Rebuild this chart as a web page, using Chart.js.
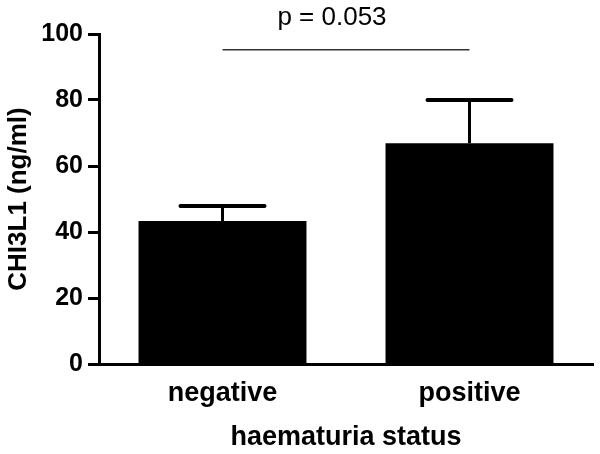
<!DOCTYPE html>
<html>
<head>
<meta charset="utf-8">
<script src="https://cdn.jsdelivr.net/npm/chart.js@4/dist/chart.umd.min.js"></script>
<style>
  html, body { margin: 0; padding: 0; background: #fff; }
  #wrap { width: 600px; height: 454px; }
</style>
</head>
<body>
<div id="wrap"><canvas id="chBars"></canvas></div>
<script>
// values
const categories = ['negative', 'positive'];
const means = [43.3, 66.9];
const upperErr = [47.9, 80.0];
const yTicks = [0, 20, 40, 60, 80, 100];
const pText = 'p = 0.053';
const pLineValue = 95.2;
const pTextValue = 105;

const FONT = "'Liberation Sans', Arial, Helvetica, sans-serif";

// error bars (upper only) + significance bracket
const extrasPlugin = {
    id: 'extras',
    afterDatasetsDraw(chart) {
        const ctx = chart.ctx;
        const x = chart.scales.x, y = chart.scales.y;
        ctx.save();
        ctx.strokeStyle = '#000';
        means.forEach((m, i) => {
            const cx = x.getPixelForValue(i);
            const yTop = y.getPixelForValue(upperErr[i]);
            const yBar = y.getPixelForValue(m);
            ctx.lineWidth = 3;
            ctx.lineCap = 'butt';
            ctx.beginPath();
            ctx.moveTo(cx, yBar);
            ctx.lineTo(cx, yTop);
            ctx.stroke();
            ctx.lineWidth = 4;
            ctx.lineCap = 'round';
            ctx.beginPath();
            ctx.moveTo(cx - 42, yTop);
            ctx.lineTo(cx + 42, yTop);
            ctx.stroke();
        });
        // p-value line
        const x0 = x.getPixelForValue(0), x1 = x.getPixelForValue(1);
        const yl = y.getPixelForValue(pLineValue);
        ctx.strokeStyle = '#333';
        ctx.lineWidth = 1.5;
        ctx.lineCap = 'butt';
        ctx.beginPath();
        ctx.moveTo(x0, yl);
        ctx.lineTo(x1, yl);
        ctx.stroke();
        ctx.fillStyle = '#000';
        ctx.font = '26px ' + FONT;
        ctx.textAlign = 'center';
        ctx.textBaseline = 'middle';
        ctx.fillText(pText, (x0 + x1) / 2 - 14, y.getPixelForValue(pTextValue));
        ctx.restore();
    }
};

new Chart(document.getElementById('chBars').getContext('2d'), {
    type: 'bar',
    data: {
        labels: categories,
        datasets: [{
            data: means,
            backgroundColor: '#000',
            borderWidth: 0,
            categoryPercentage: 0.68,
            barPercentage: 1
        }]
    },
    options: {
        responsive: true,
        maintainAspectRatio: false,
        animation: false,
        layout: { padding: { top: 34, right: 7, left: 0, bottom: 0 } },
        plugins: {
            legend: { display: false },
            tooltip: { enabled: false }
        },
        scales: {
            x: {
                afterFit: s => { s.height = 90; },
                grid: { display: false },
                border: { display: true, color: '#000', width: 3 },
                ticks: {
                    color: '#000',
                    padding: 5,
                    font: { family: FONT, size: 27, weight: 'bold' }
                },
                title: {
                    display: true,
                    text: 'haematuria status',
                    color: '#000',
                    padding: { top: 0, bottom: 0 },
                    font: { family: FONT, size: 27, weight: 'bold' }
                }
            },
            y: {
                min: 0,
                max: 100,
                afterFit: s => { s.width = 99; },
                afterBuildTicks: s => { s.ticks = yTicks.map(v => ({ value: v })); },
                grid: {
                    drawOnChartArea: false,
                    tickLength: 11,
                    tickWidth: 3,
                    color: '#000'
                },
                border: { display: true, color: '#000', width: 3 },
                ticks: {
                    color: '#000',
                    padding: 5,
                    font: { family: FONT, size: 25, weight: 'bold' }
                },
                title: {
                    display: true,
                    text: 'CHI3L1 (ng/ml)',
                    color: '#000',
                    padding: { top: 3, bottom: 0 },
                    font: { family: FONT, size: 26, weight: 'bold' }
                }
            }
        }
    },
    plugins: [extrasPlugin]
});
</script>
</body>
</html>
